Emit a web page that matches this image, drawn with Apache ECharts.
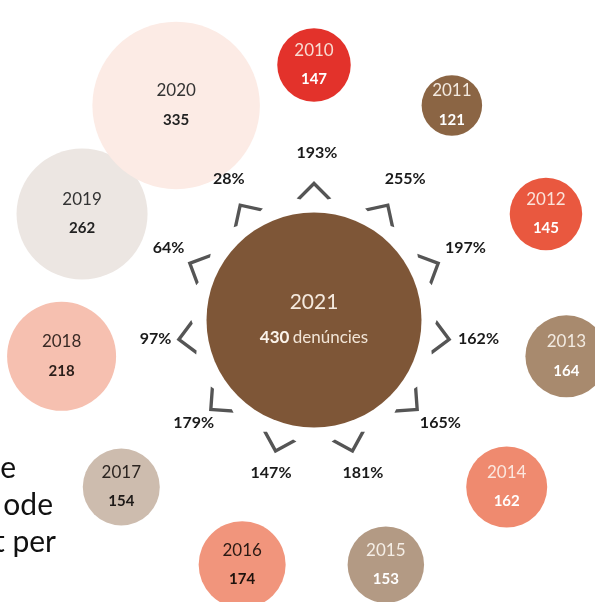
<!DOCTYPE html>
<html>
<head>
<meta charset="utf-8">
<script src="https://cdn.jsdelivr.net/npm/echarts@6/dist/echarts.min.js"></script>
<style>
html,body{margin:0;padding:0;background:#fff;}
#chart{width:595px;height:602px;}
</style>
</head>
<body>
<div id="chart"></div>
<script>
// ---- data ----
const years = ['2010','2011','2012','2013','2014','2015','2016','2017','2018','2019','2020'];
const counts = [147,121,145,164,162,153,174,154,218,262,335];
const increaseToCentre = [193,255,197,162,165,181,147,179,97,64,28];
const centreYear = '2021';
const centreCount = 430;
const centreUnit = 'denúncies';
const sideText = ['e','ode','t per'];

// ---- styles ----
const circleColors = ['#e3322b','#8b6544','#e9583f','#a88a6e','#ef8a6f','#b39a84','#f1957c','#cdbcae','#f6c0b0','#ece6e2','#fcebe5'];
const yearTextColors = ['#f8dcd2','#f3e9df','#fbe3da','#f3ebe2','#fbe7df','#f5eee6','#2b1a14','#2b2420','#3a2a25','#333','#333'];
const numTextColors = ['#fff','#fff','#fff','#fff','#fff','#fff','#1e120d','#1e1a18','#2a1d19','#222','#222'];
const centreColor = '#7e5637';
const SIZE_PER_UNIT = 0.5;   // diameter in px per complaint
const step = 360 / years.length;

const chart = echarts.init(document.getElementById('chart'), null, {renderer:'canvas'});

const circleData = years.map((y,i)=>({
  value:[1, i],
  symbolSize: counts[i]*SIZE_PER_UNIT,
  itemStyle:{color: circleColors[i], opacity:1},
  label:{
    show:true, position:'inside',
    formatter: '{y|' + y + '}\n{n|' + counts[i] + '}',
    rich:{
      y:{fontFamily:'Lato', fontSize:17, color:yearTextColors[i], lineHeight:29},
      n:{fontFamily:'Lato', fontSize:15, fontWeight:'bold', color:numTextColors[i], lineHeight:29}
    }
  }
}));

const chevronData = years.map((y,i)=>({value:[0.505, i], symbolRotate: -i*step}));
const pctData = years.map((y,i)=>({value:[0.64, i], pct: increaseToCentre[i]}));

const option = {
  animation:false,
  backgroundColor:'#fff',
  polar:{center:[314,320], radius:255},
  angleAxis:{
    type:'category', data:years, startAngle: 90 + step/2, clockwise:true,
    axisLine:{show:false}, axisTick:{show:false}, axisLabel:{show:false}, splitLine:{show:false}
  },
  radiusAxis:{
    type:'value', min:0, max:1,
    axisLine:{show:false}, axisTick:{show:false}, axisLabel:{show:false}, splitLine:{show:false}
  },
  series:[
    {
      type:'scatter', coordinateSystem:'polar', symbol:'circle',
      data: circleData, z:2
    },
    {
      type:'scatter', coordinateSystem:'polar', symbol:'circle',
      data:[{
        value:[0,0], symbolSize: centreCount*SIZE_PER_UNIT,
        itemStyle:{color:centreColor, opacity:1},
        label:{
          show:true, position:'inside',
          formatter:'{y|' + centreYear + '}\n{b|' + centreCount + '} {u|' + centreUnit + '}',
          rich:{
            y:{fontFamily:'Lato', fontSize:21, color:'#f5eadf', lineHeight:36},
            b:{fontFamily:'Lato', fontSize:17, fontWeight:'bold', color:'#fbf3ea', lineHeight:36},
            u:{fontFamily:'Lato', fontSize:17, color:'#f1e4d6', lineHeight:36}
          }
        }
      }], z:2
    },
    {
      type:'scatter', coordinateSystem:'polar',
      symbol:'path://M0,20 L20,0 L40,20',
      symbolSize:[31,15.5],
      itemStyle:{color:'rgba(0,0,0,0)', borderColor:'#555', borderWidth:3, opacity:1},
      data: chevronData, z:3
    },
    {
      type:'scatter', coordinateSystem:'polar',
      symbolSize:1, itemStyle:{color:'rgba(0,0,0,0)', opacity:1},
      label:{
        show:true, position:'inside', offset:[3,-4],
        formatter:p=>p.data.pct + '%',
        fontFamily:'Lato', fontSize:16, fontWeight:'bold', color:'#1a1a1a'
      },
      data: pctData, z:4
    }
  ],
  graphic: sideText.map((t,i)=>({
    type:'text',
    style:{
      text:t, x:[16,53,56][i], y:[483,520,557][i],
      textAlign:'right', textVerticalAlign:'bottom',
      font:'30px Lato', fill:'#111'
    }
  }))
};
chart.setOption(option);
</script>
</body>
</html>
